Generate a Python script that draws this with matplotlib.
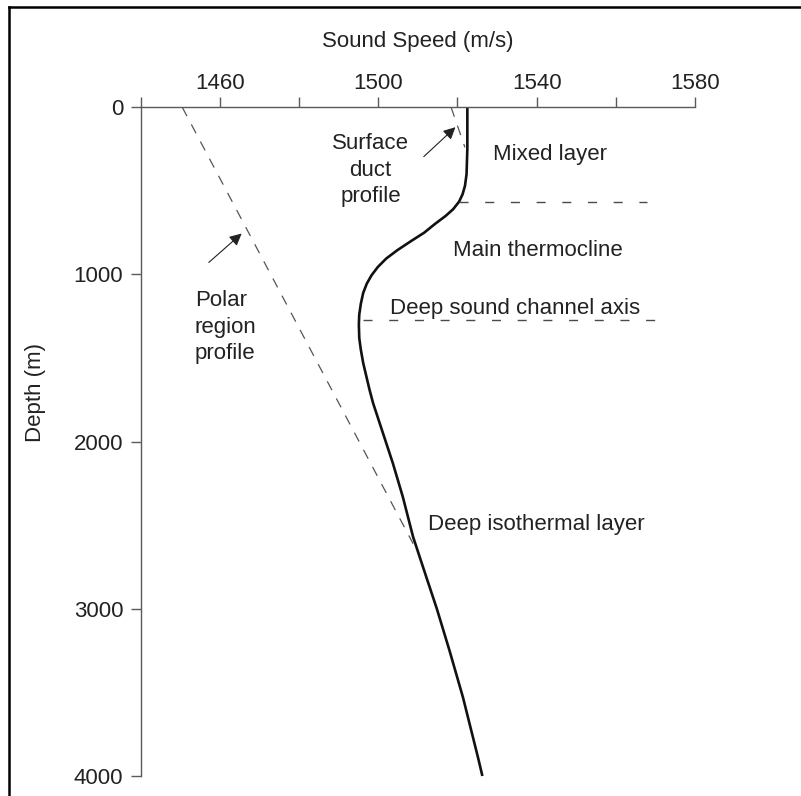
import matplotlib
matplotlib.use("Agg")
import matplotlib.pyplot as plt
from matplotlib.lines import Line2D

plt.rcParams['font.family'] = ['Liberation Sans', 'DejaVu Sans']

# ---- data ----
main_depth = [0, 250, 400, 470, 520, 565, 610, 650, 700, 750, 800, 855, 905, 955,
              1005, 1055, 1110, 1175, 1240, 1300, 1380, 1450, 1530, 1600, 1690, 1770,
              1950, 2130, 2330, 2570, 2800, 3000, 3250, 3530, 3890, 4000]
main_speed = [1522.5, 1522.5, 1522.3, 1521.9, 1521.3, 1520.4, 1518.9, 1517.0, 1514.2,
              1511.6, 1508.3, 1504.8, 1502.0, 1499.9, 1498.3, 1497.1, 1496.2, 1495.6,
              1495.2, 1495.1, 1495.2, 1495.6, 1496.2, 1496.9, 1497.8, 1498.7,
              1501.2, 1503.7, 1506.2, 1508.8, 1512.0, 1514.8, 1518.0, 1521.4, 1525.2, 1526.3]

polar_depth = [0, 1150, 2610]
polar_speed = [1450.5, 1476.2, 1508.8]

duct_depth = [0, 240]
duct_speed = [1518.4, 1521.9]

mixed_layer_depth = 565
mixed_layer_speed = [1520.5, 1568.0]
channel_axis_depth = 1270
channel_axis_speed = [1496.1, 1569.9]

x_ticks = [1440, 1460, 1480, 1500, 1520, 1540, 1560, 1580]
x_tick_labels = ['', '1460', '', '1500', '', '1540', '', '1580']
y_ticks = [0, 1000, 2000, 3000, 4000]
y_tick_labels = ['0', '1000', '2000', '3000', '4000']

W, H = 801, 796
fig = plt.figure(figsize=(W / 100, H / 100), dpi=100)
fig.patch.set_facecolor('white')

left_px, right_px, top_px, bot_px = 140.7, 695.0, 107.3, 776.0
ax = fig.add_axes([left_px / W, 1 - bot_px / H, (right_px - left_px) / W, (bot_px - top_px) / H])

TXT = '#222222'
AX = '#5a5a5a'
FS = 16

ax.set_xlim(1440, 1580)
ax.set_ylim(4000, 0)
for s in ['bottom', 'right']:
    ax.spines[s].set_visible(False)
for s in ['top', 'left']:
    ax.spines[s].set_color(AX)
    ax.spines[s].set_linewidth(1.0)
ax.xaxis.tick_top()
ax.set_xticks(x_ticks)
ax.set_xticklabels(x_tick_labels)
ax.set_yticks(y_ticks)
ax.set_yticklabels(y_tick_labels)
ax.tick_params(axis='both', direction='out', length=7, width=1.0, color=AX,
               labelsize=FS, labelcolor=TXT)
ax.tick_params(axis='x', pad=2.5)
ax.tick_params(axis='y', pad=5.5)
ax.patch.set_alpha(0)

# curves
ax.plot(main_speed, main_depth, color='#111111', lw=1.9, clip_on=False,
        solid_capstyle='butt', solid_joinstyle='round')
ax.plot(polar_speed, polar_depth, color='#555555', lw=0.9, dashes=(8, 7.5))
ax.plot(duct_speed, duct_depth, color='#555555', lw=0.9, dashes=(8, 7.5))
ax.plot(mixed_layer_speed, [mixed_layer_depth] * 2, color='#4a4a4a', lw=1.0, dashes=(6.5, 12))
ax.plot(channel_axis_speed, [channel_axis_depth] * 2, color='#4a4a4a', lw=1.0, dashes=(6.5, 12))

# arrows
ap = dict(arrowstyle='-|>', color='#222222', lw=0.8, mutation_scale=18,
          shrinkA=0, shrinkB=0)
ax.annotate('', xy=(1519.5, 119), xytext=(1511.5, 295), arrowprops=ap)
ax.annotate('', xy=(1465.5, 755), xytext=(1457.2, 928), arrowprops=ap)

# annotations
kw = dict(fontsize=FS, color=TXT, linespacing=1.33)
ax.text(1528.9, 285, 'Mixed layer', ha='left', va='center', **kw)
ax.text(1518.8, 854, 'Main thermocline', ha='left', va='center', **kw)
ax.text(1502.9, 1201, 'Deep sound channel axis', ha='left', va='center', **kw)
ax.text(1512.5, 2494, 'Deep isothermal layer', ha='left', va='center', **kw)
ax.text(1498.1, 376, 'Surface\nduct\nprofile', ha='center', va='center', multialignment='center', **kw)
ax.text(1453.7, 1315, 'Polar\nregion\nprofile', ha='left', va='center', multialignment='left', **kw)

# axis titles
fig.text(417.9 / W, 1 - 41.5 / H, 'Sound Speed (m/s)', ha='center', va='center', fontsize=FS, color=TXT)
fig.text(35 / W, 1 - 393 / H, 'Depth (m)', ha='center', va='center', rotation=90, fontsize=FS, color=TXT)

# outer frame (left and top)
fig.add_artist(Line2D([9 / W, 9 / W], [0, 1 - 7 / H], color='black', lw=1.8, transform=fig.transFigure))
fig.add_artist(Line2D([9 / W, 1], [1 - 7 / H, 1 - 7 / H], color='black', lw=1.8, transform=fig.transFigure))

fig.savefig('out.png', dpi=100)
